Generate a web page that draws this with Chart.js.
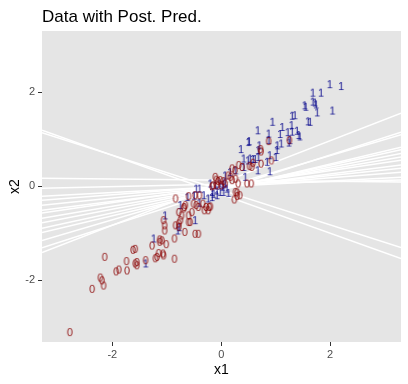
<!DOCTYPE html>
<html>
<head>
<meta charset="utf-8">
<script src="https://cdn.jsdelivr.net/npm/chart.js@4"></script>
<style>
  html, body { margin: 0; padding: 0; background: #fff; }
</style>
</head>
<body>
<canvas id="chart" width="408" height="384"></canvas>
<script>
// observed data, class 0
const class0X = [0.87, 1.25, 0.72, 0.73, 0.56, 0.73, 0.92, 0.32, 0.20, 0.25, 0.38, 0.52, 0.58, -0.11, -0.02, 0.07, 0.20, 0.31, 0.55, -0.15, 0.00, 0.13, 0.17, 0.26, 0.47, -0.09, -0.06, 0.04, 0.26, 0.24, 0.29, 0.34, 0.29, -0.17, -0.08, -0.20,
  -0.84, -0.60, -0.48, -0.40, -0.69, -0.66, -0.78, -0.51, -0.46, -0.42, -0.34, -0.28, -0.22, -0.31, -0.24, -0.75, -0.60, -1.06, -0.78, -0.68, -0.54, -0.73, -0.57, -0.48, -0.42, -0.67, -0.84, -0.78, -1.04, -1.04, -0.60,
  -1.09, -1.13, -1.13, -1.27, -1.01, -0.86, -0.86, -1.06, -1.07, -1.15, -1.18, -1.21, -1.39, -1.55, -1.58, -1.55, -1.73, -1.88, -1.93, -1.74, -1.62, -1.58, -2.14, -2.22, -2.19, -2.16, -2.37, -2.78];
const class0Y = [0.96, 0.98, 0.79, 0.74, 0.41, 0.48, 0.55, 0.45, 0.38, 0.34, 0.41, 0.43, 0.50, 0.20, 0.13, 0.06, 0.13, 0.06, 0.06, 0.02, 0.02, 0.23, 0.20, 0.16, 0.06, 0.14, 0.11, 0.11, -0.12, -0.28, -0.13, -0.19, -0.21, 0.00, 0.02, -0.43,
  -0.26, -0.21, -0.19, -0.19, -0.47, -0.40, -0.55, -0.37, -0.40, -0.44, -0.37, -0.44, -0.44, -0.51, -0.51, -0.72, -0.76, -0.72, -0.86, -0.44, -0.55, -0.62, -0.76, -1.01, -1.01, -0.97, -0.83, -0.79, -0.83, -0.94, -0.62,
  -1.15, -1.13, -1.18, -1.26, -1.23, -1.11, -1.54, -1.47, -1.43, -1.42, -1.50, -1.53, -1.57, -1.61, -1.64, -1.68, -1.79, -1.77, -1.81, -1.59, -1.35, -1.33, -1.50, -1.94, -2.00, -2.11, -2.18, -3.10];

// observed data, class 1
const class1X = [1.99, 2.20, 1.68, 1.83, 1.53, 1.55, 1.68, 1.72, 1.74, 1.76, 2.04, 1.30, 1.35, 1.59, 1.63, 0.94, 1.12, 1.29, 0.67, 0.87, 1.08, 1.22, 1.30, 1.39, 1.42, 1.44, 0.51, 0.70, 0.87, 1.03, 1.10, 1.02, 1.24, 1.26, 0.36, 0.68, 0.89, 1.00, 0.41, 0.49, 0.53, 0.58, 0.62, 0.68, 0.84, 0.67, 0.89, 0.41, 0.26, 0.44, 0.07, 0.16, 0.50,
  -0.20, -0.46, -0.40, -0.11, -0.03, 0.02, 0.07, 0.10, -0.08, -0.14, -0.24, -0.32, -0.17, 0.13, -0.75, -0.48, -1.03, -0.17, -0.08, -0.02, 0.04, 0.04,
  -1.24, -1.39, -0.77, -0.80, -0.62, -0.50, -0.40];
const class1Y = [2.17, 2.13, 1.99, 1.99, 1.72, 1.69, 1.80, 1.78, 1.74, 1.57, 1.61, 1.50, 1.51, 1.38, 1.37, 1.37, 1.26, 1.30, 1.19, 1.12, 1.11, 1.15, 1.16, 1.18, 1.09, 1.06, 0.96, 0.87, 0.98, 0.87, 0.91, 0.77, 0.93, 0.98, 0.79, 0.77, 0.66, 0.62, 0.59, 0.55, 0.59, 0.58, 0.58, 0.62, 0.52, 0.34, 0.32, 0.41, 0.34, 0.20, 0.23, 0.30, 0.94,
  0.06, -0.05, -0.05, 0.02, 0.06, -0.01, 0.06, -0.05, -0.09, -0.16, -0.26, -0.19, -0.12, -0.14, -0.40, -0.72, -0.62, -0.23, -0.19, -0.12, -0.12, 0.04,
  -1.11, -1.64, -0.87, -0.94, -0.23, -0.20, -0.35];

// posterior draws of the decision boundary: x2 = intercept + slope * x1
const lineIntercepts = [0.13, 0.045, -0.01, 0.00, -0.01, -0.03, -0.01, -0.03, -0.04, -0.06, -0.08, -0.03, -0.08, 0.07, -0.17, -0.08];
const lineSlopes = [-0.012, 0.026, 0.061, 0.091, 0.119, 0.146, 0.170, 0.198, 0.224, 0.253, 0.275, 0.341, 0.373, 0.449, -0.414, -0.370];

const xTicks = [-2, 0, 2];
const yTicks = [-2, 0, 2];
const xRange = [-3.29, 3.30];
const yRange = [-3.31, 3.30];

function glyph(ch, color) {
    const c = document.createElement('canvas');
    c.width = 12;
    c.height = 14;
    const g = c.getContext('2d');
    g.font = '11px "Liberation Sans", Arial, sans-serif';
    g.fillStyle = color;
    g.textAlign = 'center';
    g.textBaseline = 'alphabetic';
    g.fillText(ch, 6, 11);
    return c;
}

const zero = glyph('0', 'rgba(139, 0, 0, 0.9)');
const one = glyph('1', 'rgba(0, 0, 139, 0.9)');

const lineSets = lineIntercepts.map((a, i) => ({
    type: 'scatter',
    showLine: true,
    order: 2,
    data: xRange.map(x => ({ x: x, y: a + lineSlopes[i] * x })),
    borderColor: '#ffffff',
    borderWidth: 1.5,
    pointRadius: 0
}));

const panelBg = {
    id: 'panelBg',
    beforeDraw(chart) {
        const { ctx, chartArea: a } = chart;
        ctx.save();
        ctx.fillStyle = '#e5e5e5';
        ctx.fillRect(a.left, a.top, a.right - a.left, a.bottom - a.top);
        ctx.restore();
    }
};

const plotTitle = {
    id: 'plotTitle',
    afterDraw(chart) {
        const ctx = chart.ctx;
        ctx.save();
        ctx.fillStyle = '#000';
        ctx.font = '17px "Liberation Sans", Arial, sans-serif';
        ctx.textBaseline = 'alphabetic';
        ctx.fillText('Data with Post. Pred.', chart.chartArea.left, 22);
        ctx.restore();
    }
};

const tickFont = { family: '"Liberation Sans", Arial, sans-serif', size: 11 };
const titleFont = { family: '"Liberation Sans", Arial, sans-serif', size: 14 };

new Chart(document.getElementById('chart'), {
    type: 'scatter',
    data: {
        datasets: [
            {
                order: 1,
                data: class0X.map((x, i) => ({ x: x, y: class0Y[i] })),
                pointStyle: zero,
                pointRadius: 5
            },
            {
                order: 1,
                data: class1X.map((x, i) => ({ x: x, y: class1Y[i] })),
                pointStyle: one,
                pointRadius: 5
            }
        ].concat(lineSets)
    },
    options: {
        responsive: false,
        animation: false,
        layout: { padding: { left: 0, right: 7, top: 31, bottom: 0 } },
        plugins: {
            legend: { display: false },
            tooltip: { enabled: false }
        },
        scales: {
            x: {
                type: 'linear',
                min: xRange[0],
                max: xRange[1],
                afterBuildTicks: s => { s.ticks = xTicks.map(v => ({ value: v })); },
                afterFit: s => { s.height = 42; },
                grid: { drawOnChartArea: false, tickLength: 4, tickColor: '#333333' },
                border: { display: false },
                ticks: { color: '#4d4d4d', font: tickFont, padding: 2, maxRotation: 0 },
                title: { display: true, text: 'x1', color: '#000', font: titleFont, padding: { top: 0, bottom: 5 } }
            },
            y: {
                type: 'linear',
                min: yRange[0],
                max: yRange[1],
                afterBuildTicks: s => { s.ticks = yTicks.map(v => ({ value: v })); },
                afterFit: s => { s.width = 42; },
                grid: { drawOnChartArea: false, tickLength: 4, tickColor: '#333333' },
                border: { display: false },
                ticks: { color: '#4d4d4d', font: tickFont, padding: 3 },
                title: { display: true, text: 'x2', color: '#000', font: titleFont, padding: { top: 7, bottom: 0 } }
            }
        }
    },
    plugins: [panelBg, plotTitle]
});
</script>
</body>
</html>
